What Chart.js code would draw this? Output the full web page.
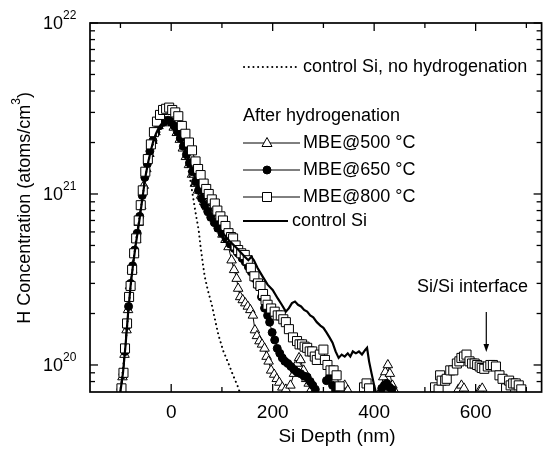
<!DOCTYPE html>
<html>
<head>
<meta charset="utf-8">
<script src="https://cdn.jsdelivr.net/npm/chart.js@4.4.1/dist/chart.umd.min.js"></script>
<style>
  html, body { margin: 0; padding: 0; background: #fff; }
</style>
</head>
<body>
<canvas id="siChart" width="549" height="456"></canvas>
<script>
// SIMS hydrogen profiles, depth in nm, concentration in atoms/cm3
const depthNoH = [-100,-90,-80,-70,-60,-50,-40,-30,-20,-10,0,10,20,30,36,41,48,54,58,62,66,72,80,93,103,113,122,132,138];
const concNoH = [7.0e19,1.3e20,2.9e20,5.2e20,8.2e20,1.3e21,1.8e21,2.2e21,2.45e21,2.55e21,2.5e21,2.3e21,1.95e21,1.55e21,1.3e21,1.05e21,7.8e20,6.2e20,4.9e20,4.0e20,3.3e20,2.75e20,2.25e20,1.5e20,1.2e20,1.02e20,8.7e19,7.4e19,6.5e19];

const depth500 = [-100,-96,-92,-88,-85,-81,-77,-73,-69,-64,-59,-54,-49,-43,-37,-31,-25,-19,-13,-7,-1,5,11,17,23,29,35,41,47,53,59,65,71,77,83,89,95,101,107,113,119,124,129,132,136,141,146,151,156,161,165,169,174,179,184,188,192,197,203,208,213,219,226,235,242,248,252,255,261,266,271,276,300,336,342,348,380,412,418,422,427,431,436,441,500,566,572,577,590,608,613];
const conc500 = [7.0e19,8.5e19,1.15e20,1.6e20,2.1e20,2.9e20,3.6e20,4.5e20,5.4e20,6.8e20,8.5e20,1.12e21,1.4e21,1.72e21,2.05e21,2.3e21,2.5e21,2.6e21,2.65e21,2.65e21,2.6e21,2.45e21,2.28e21,2.08e21,1.85e21,1.65e21,1.48e21,1.3e21,1.15e21,1.05e21,9.8e20,9.0e20,8.4e20,7.8e20,7.3e20,6.8e20,6.3e20,5.8e20,5.4e20,4.9e20,4.1e20,3.6e20,3.2e20,2.8e20,2.5e20,2.4e20,2.3e20,2.2e20,2.1e20,1.95e20,1.6e20,1.48e20,1.38e20,1.32e20,1.25e20,1.12e20,1.05e20,9.3e19,8.8e19,8.3e19,7.9e19,7.4e19,7.2e19,7.6e19,8.9e19,1.02e20,1.1e20,1.07e20,9.3e19,8.3e19,7.8e19,7.2e19,null,7.2e19,7.6e19,7.1e19,null,7.0e19,8.5e19,9.1e19,1.0e20,8.9e19,7.6e19,7.0e19,null,7.2e19,7.6e19,7.3e19,null,7.1e19,7.3e19];

const depth650 = [-99,-95,-91,-87,-84,-80,-76,-72,-67,-62,-57,-52,-47,-42,-36,-30,-24,-18,-12,-6,0,6,12,18,24,30,36,42,48,54,60,66,72,78,85,92,100,108,116,124,132,140,146,152,158,165,172,178,184,190,194,199,204,209,214,219,224,230,236,242,248,255,262,268,274,279,284,295,306,312,318,324,370,415,420,425,430,435];
const conc650 = [7.2e19,8.8e19,1.2e20,1.7e20,2.2e20,3.0e20,3.8e20,4.7e20,5.9e20,7.4e20,9.8e20,1.25e21,1.5e21,1.78e21,2.05e21,2.3e21,2.5e21,2.62e21,2.68e21,2.7e21,2.65e21,2.5e21,2.32e21,2.12e21,1.9e21,1.7e21,1.52e21,1.35e21,1.18e21,1.05e21,9.4e20,8.6e20,7.9e20,7.3e20,6.8e20,6.3e20,5.9e20,5.5e20,5.1e20,4.8e20,4.5e20,4.2e20,4.0e20,3.75e20,3.5e20,3.2e20,2.9e20,2.5e20,2.15e20,1.95e20,1.78e20,1.55e20,1.4e20,1.25e20,1.17e20,1.1e20,1.05e20,1.02e20,9.8e19,9.4e19,9.1e19,8.9e19,8.6e19,8.5e19,8.0e19,7.6e19,7.2e19,null,8.1e19,8.5e19,7.6e19,7.1e19,null,7.3e19,7.6e19,7.8e19,7.4e19,7.2e19];

const depth800 = [-98,-94,-91,-87,-83,-80,-77,-73,-69,-64,-60,-56,-51,-46,-40,-34,-28,-22,-16,-10,-4,2,8,14,21,28,35,41,48,53,58,64,69,74,80,86,91,97,102,107,113,118,122,127,132,138,145,151,157,164,171,176,181,186,190,197,204,210,216,221,226,232,240,248,253,258,263,268,273,278,283,287,293,300,303,308,314,320,326,332,350,380,385,390,450,520,527,530,533,540,543,550,556,563,568,572,577,582,588,593,598,603,608,612,617,624,629,634,640,647,653,660,666,669,674,679,685,690];
const conc800 = [7.3e19,9.0e19,1.25e20,1.75e20,2.5e20,2.9e20,3.6e20,4.5e20,5.5e20,7.0e20,8.6e20,1.05e21,1.35e21,1.6e21,1.95e21,2.3e21,2.65e21,2.9e21,3.1e21,3.15e21,3.2e21,3.1e21,3.0e21,2.85e21,2.5e21,2.25e21,2.0e21,1.8e21,1.55e21,1.4e21,1.29e21,1.15e21,1.07e21,1.0e21,9.3e20,8.8e20,8.0e20,7.4e20,7.0e20,6.5e20,5.9e20,5.6e20,5.5e20,5.0e20,4.7e20,4.5e20,4.4e20,4.1e20,3.7e20,3.3e20,3.0e20,2.9e20,2.6e20,2.4e20,2.25e20,2.14e20,2.05e20,1.95e20,1.95e20,1.85e20,1.78e20,1.62e20,1.45e20,1.38e20,1.32e20,1.32e20,1.28e20,1.26e20,1.2e20,1.2e20,1.12e20,1.07e20,1.15e20,1.23e20,1.07e20,1.0e20,9.3e19,9.3e19,8.7e19,7.5e19,null,7.4e19,7.8e19,7.3e19,null,7.4e19,7.2e19,8.7e19,8.1e19,8.1e19,8.3e19,9.3e19,9.3e19,1.02e20,1.05e20,1.1e20,1.12e20,1.15e20,1.05e20,1.02e20,1.02e20,1.0e20,9.8e19,9.6e19,9.5e19,9.8e19,1.0e20,1.0e20,9.8e19,8.7e19,8.3e19,7.3e19,8.1e19,7.6e19,7.8e19,7.8e19,7.6e19,7.2e19];

const depthCtrl = [-100,-95,-90,-85,-80,-75,-70,-65,-60,-55,-50,-45,-40,-35,-30,-25,-20,-15,-10,-5,0,5,10,15,20,25,30,35,40,45,50,55,60,65,70,75,80,90,100,115,130,145,152,158,163,170,180,190,200,210,218,226,232,238,244,250,256,262,268,274,280,287,294,300,306,312,318,324,330,336,342,348,353,358,364,370,376,382,386,390,395,400,404];
const concCtrl = [7.0e19,9.0e19,1.3e20,2.0e20,2.9e20,3.9e20,5.0e20,6.3e20,8.0e20,1.03e21,1.3e21,1.55e21,1.8e21,2.05e21,2.25e21,2.42e21,2.55e21,2.62e21,2.66e21,2.66e21,2.62e21,2.52e21,2.4e21,2.25e21,2.08e21,1.9e21,1.72e21,1.56e21,1.42e21,1.3e21,1.18e21,1.08e21,1.0e21,9.2e20,8.5e20,7.9e20,7.4e20,6.6e20,6.0e20,5.3e20,4.8e20,4.3e20,4.1e20,4.3e20,4.1e20,3.7e20,3.3e20,2.95e20,2.75e20,2.45e20,2.25e20,2.05e20,2.15e20,2.3e20,2.35e20,2.25e20,2.2e20,2.1e20,2.05e20,1.95e20,1.9e20,1.78e20,1.7e20,1.65e20,1.55e20,1.45e20,1.35e20,1.2e20,1.1e20,1.15e20,1.12e20,1.17e20,1.12e20,1.2e20,1.17e20,1.2e20,1.15e20,1.22e20,1.26e20,1.05e20,8.9e19,7.6e19,6.8e19];

// axes
const xMajorTicks = [0, 200, 400, 600];
const xMinorTicks = [-100, 100, 300, 500, 700];
const yMajorTicks = [1e20, 1e21, 1e22];
const yMinorTicks = [8e19, 9e19, 2e20, 3e20, 4e20, 5e20, 6e20, 7e20, 8e20, 9e20,
                     2e21, 3e21, 4e21, 5e21, 6e21, 7e21, 8e21, 9e21];

// annotation
const interfaceDepth = 621;
const arrowConc = [2.04e20, 1.19e20];

const FONT = "'Liberation Sans', Arial, Helvetica, sans-serif";
Chart.defaults.font.family = FONT;
Chart.defaults.color = '#000';

function toPoints(xs, ys) {
    return xs.map((x, i) => ({ x: x, y: ys[i] }));
}

function drawMarker(ctx, type, x, y) {
    ctx.save();
    ctx.lineWidth = 1;
    ctx.strokeStyle = '#000';
    ctx.beginPath();
    if (type === 'triangle') {
        ctx.moveTo(x, y - 5.5);
        ctx.lineTo(x + 5, y + 3.5);
        ctx.lineTo(x - 5, y + 3.5);
        ctx.closePath();
        ctx.fillStyle = '#fff';
    } else if (type === 'circle') {
        ctx.arc(x, y, 4, 0, Math.PI * 2);
        ctx.fillStyle = '#000';
    } else {
        ctx.rect(x - 4.5, y - 4.5, 9, 9);
        ctx.fillStyle = '#fff';
    }
    ctx.fill();
    ctx.stroke();
    ctx.restore();
}

const decorations = {
    id: 'decorations',
    afterDatasetsDraw(chart) {
        const ctx = chart.ctx;
        const { left, right, top, bottom } = chart.chartArea;
        const xs = chart.scales.x, ys = chart.scales.y;
        ctx.save();
        ctx.strokeStyle = '#000';
        ctx.fillStyle = '#000';

        // frame
        ctx.lineWidth = 1.7;
        ctx.strokeRect(left, top, right - left, bottom - top);

        // inward ticks
        ctx.lineWidth = 1.3;
        const seg = (x1, y1, x2, y2) => { ctx.beginPath(); ctx.moveTo(x1, y1); ctx.lineTo(x2, y2); ctx.stroke(); };
        xMajorTicks.forEach(v => { const p = xs.getPixelForValue(v); seg(p, bottom, p, bottom - 8); seg(p, top, p, top + 8); });
        xMinorTicks.forEach(v => { const p = xs.getPixelForValue(v); seg(p, bottom, p, bottom - 5); seg(p, top, p, top + 5); });
        yMajorTicks.forEach(v => { const p = ys.getPixelForValue(v); seg(left, p, left + 8, p); seg(right, p, right - 8, p); });
        yMinorTicks.forEach(v => { const p = ys.getPixelForValue(v); seg(left, p, left + 5, p); seg(right, p, right - 5, p); });

        // y tick labels with superscripts
        yMajorTicks.forEach(v => {
            const p = ys.getPixelForValue(v);
            ctx.font = '18px ' + FONT;
            ctx.textAlign = 'right';
            ctx.textBaseline = 'middle';
            ctx.fillText('10', 63, p + 1);
            ctx.font = '12px ' + FONT;
            ctx.textAlign = 'left';
            ctx.fillText(String(Math.round(Math.log10(v))), 63, p - 7);
        });

        // axis titles
        ctx.font = '19px ' + FONT;
        ctx.textAlign = 'center';
        ctx.textBaseline = 'middle';
        ctx.fillText('Si Depth (nm)', 337, 437);

        ctx.save();
        ctx.translate(25, 208);
        ctx.rotate(-Math.PI / 2);
        ctx.font = '18px ' + FONT;
        ctx.textAlign = 'center';
        const main = 'H Concentration (atoms/cm';
        const wMain = ctx.measureText(main).width;
        ctx.font = '12px ' + FONT;
        const wSup = ctx.measureText('3').width;
        ctx.font = '18px ' + FONT;
        const wEnd = ctx.measureText(')').width;
        const total = wMain + wSup + wEnd;
        let sx = -total / 2;
        ctx.textAlign = 'left';
        ctx.fillText(main, sx, 0);
        ctx.font = '12px ' + FONT;
        ctx.fillText('3', sx + wMain, -8);
        ctx.font = '18px ' + FONT;
        ctx.fillText(')', sx + wMain + wSup, 0);
        ctx.restore();

        // legend
        ctx.font = '18px ' + FONT;
        ctx.textAlign = 'left';
        ctx.textBaseline = 'middle';
        ctx.lineWidth = 2;
        ctx.lineCap = 'round';
        ctx.setLineDash([0.1, 4.6]);
        seg(244, 67, 299, 67);
        ctx.setLineDash([]);
        ctx.lineCap = 'butt';
        ctx.fillText('control Si, no hydrogenation', 303, 67);
        ctx.fillText('After hydrogenation', 243, 116);

        const rows = [
            { y: 143, type: 'triangle', label: 'MBE@500 °C' },
            { y: 170, type: 'circle', label: 'MBE@650 °C' },
            { y: 197, type: 'square', label: 'MBE@800 °C' }
        ];
        rows.forEach(r => {
            ctx.lineWidth = 1;
            seg(243, r.y, 300, r.y);
            drawMarker(ctx, r.type, 267, r.y);
            ctx.fillStyle = '#000';
            ctx.fillText(r.label, 303, r.y);
        });
        ctx.lineWidth = 2.2;
        seg(243, 221, 288, 221);
        ctx.fillText('control Si', 292, 221);

        // Si/Si interface arrow
        ctx.fillText('Si/Si interface', 417, 287);
        const ax = xs.getPixelForValue(interfaceDepth);
        const ay1 = ys.getPixelForValue(arrowConc[0]);
        const ay2 = ys.getPixelForValue(arrowConc[1]);
        ctx.lineWidth = 1.2;
        seg(ax, ay1, ax, ay2 - 6);
        ctx.beginPath();
        ctx.moveTo(ax - 2.8, ay2 - 8);
        ctx.lineTo(ax + 2.8, ay2 - 8);
        ctx.lineTo(ax, ay2);
        ctx.closePath();
        ctx.fill();

        ctx.restore();
    }
};

const markerLine = { borderColor: '#000', borderWidth: 1, tension: 0, spanGaps: false, pointBorderColor: '#000', pointBorderWidth: 1 };

new Chart(document.getElementById('siChart'), {
    type: 'line',
    data: {
        datasets: [
            { label: 'control Si', data: toPoints(depthCtrl, concCtrl), borderColor: '#000', borderWidth: 2.2, pointRadius: 0, tension: 0, order: 1 },
            { label: 'control Si, no hydrogenation', data: toPoints(depthNoH, concNoH), borderColor: '#000', borderWidth: 2, borderDash: [0.1, 4.6], borderCapStyle: 'round', pointRadius: 0, tension: 0, order: 2 },
            Object.assign({ label: 'MBE@800 °C', data: toPoints(depth800, conc800), pointStyle: 'rect', pointRadius: 6.4, pointBackgroundColor: '#fff', order: 3 }, markerLine),
            Object.assign({ label: 'MBE@650 °C', data: toPoints(depth650, conc650), pointStyle: 'circle', pointRadius: 4, pointBackgroundColor: '#000', order: 4 }, markerLine),
            Object.assign({ label: 'MBE@500 °C', data: toPoints(depth500, conc500), pointStyle: 'triangle', pointRadius: 5.5, pointBackgroundColor: '#fff', order: 5 }, markerLine)
        ]
    },
    options: {
        responsive: false,
        animation: false,
        devicePixelRatio: 1,
        events: [],
        layout: { padding: { top: 23, right: 1.5, left: 0, bottom: 0 } },
        plugins: { legend: { display: false }, tooltip: { enabled: false } },
        scales: {
            x: {
                type: 'linear',
                min: -160,
                max: 730,
                afterFit: (scale) => { scale.height = 64; },
                afterBuildTicks: (scale) => { scale.ticks = xMajorTicks.map(v => ({ value: v })); },
                grid: { display: false, drawTicks: false },
                border: { display: false },
                ticks: { font: { size: 19 }, color: '#000', padding: 9, maxRotation: 0 }
            },
            y: {
                type: 'logarithmic',
                min: 6.95e19,
                max: 1e22,
                afterFit: (scale) => { scale.width = 90; },
                grid: { display: false, drawTicks: false },
                border: { display: false },
                ticks: { display: false }
            }
        }
    },
    plugins: [decorations]
});
</script>
</body>
</html>
